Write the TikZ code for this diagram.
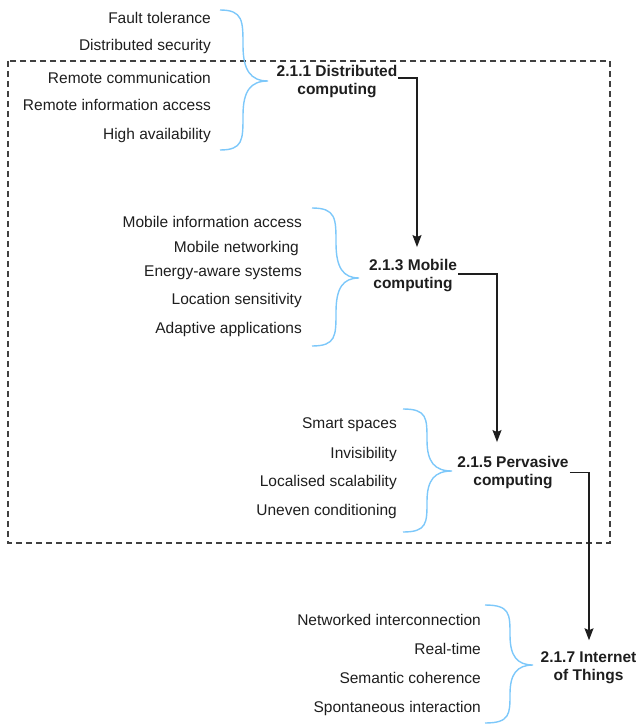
\documentclass[tikz,border=0pt]{standalone}
\usepackage{fontspec}
\setmainfont{Liberation Sans}
\usetikzlibrary{arrows.meta}
\definecolor{bracecol}{RGB}{125,200,250}
\definecolor{ink}{RGB}{30,30,30}
\begin{document}
\begin{tikzpicture}[x=1pt,y=-1pt,
  every node/.style={font=\fontsize{15.5}{18}\selectfont, text=ink},
  item/.style={anchor=base east, inner sep=0pt},
  title/.style={align=center, inner sep=1pt, font=\fontsize{15.5}{18}\selectfont\bfseries},
  brc/.style={draw=bracecol, line width=1.4pt},
  arr/.style={draw=ink, line width=1.3pt, -{Stealth[length=12pt,width=9pt,inset=2pt]}},
  frame/.style={draw=ink!85, line width=1.2pt, dash pattern=on 6pt off 4pt}]
\useasboundingbox (0,0) rectangle (639,725);

% dashed frame
\draw[frame] (8,61) rectangle (610,543);

% group 1
\node[item] (a1) at (211,23.5) {Fault tolerance};
\node[item] (a2) at (211,50.5) {Distributed security};
\node[item] (a3) at (211,83) {Remote communication};
\node[item] (a4) at (211,110) {Remote information access};
\node[item] (a5) at (211,139) {High availability};
\draw[brc] (220,10) .. controls (243,10) and (243,21) .. (243,45.5) .. controls (243,70) and (250.5,81) .. (268,81) .. controls (250.5,81) and (243,91) .. (243,115.5) .. controls (243,140) and (243,150) .. (220,150);
\node[title] (t1) at (337,81.5) {2.1.1 Distributed\\computing};

% group 2
\node[item] (b1) at (302,227.5) {Mobile information access};
\node[item] (b2) at (299,252.5) {Mobile networking};
\node[item] (b3) at (302,276.5) {Energy-aware systems};
\node[item] (b4) at (302,304.5) {Location sensitivity};
\node[item] (b5) at (302,333.5) {Adaptive applications};
\draw[brc] (312,208) .. controls (336,208) and (336,218.5) .. (336,243) .. controls (336,267.5) and (343,278) .. (359,278) .. controls (343,278) and (336,288) .. (336,312) .. controls (336,336) and (336,346) .. (312,346);
\node[title] (t2) at (413,275.5) {2.1.3 Mobile\\computing};

% group 3
\node[item] (c1) at (397,428.5) {Smart spaces};
\node[item] (c2) at (397,458.5) {Invisibility};
\node[item] (c3) at (397,486.5) {Localised scalability};
\node[item] (c4) at (397,515.5) {Uneven conditioning};
\draw[brc] (403,409) .. controls (427,409) and (427,418) .. (427,440) .. controls (427,462) and (434.5,471) .. (452,471) .. controls (434.5,471) and (427,480) .. (427,501.5) .. controls (427,523) and (427,532) .. (403,532);
\node[title] (t3) at (513,472.5) {2.1.5 Pervasive\\computing};

% group 4
\node[item] (d1) at (481,625.5) {Networked interconnection};
\node[item] (d2) at (481,654.5) {Real-time};
\node[item] (d3) at (481,683.5) {Semantic coherence};
\node[item] (d4) at (481,712.5) {Spontaneous interaction};
\draw[brc] (485,605) .. controls (510,605) and (510,614) .. (510,635) .. controls (510,656) and (517,665) .. (533,665) .. controls (517,665) and (510,674) .. (510,694) .. controls (510,714) and (510,723) .. (485,723);
\node[title] (t4) at (588.5,667.5) {2.1.7 Internet\\of Things};

% connectors
\draw[arr] ([yshift=3.5pt]t1.east) -| ([xshift=4pt,yshift=11pt]t2.north);
\draw[arr] ([yshift=1.5pt]t2.east) -| ([xshift=-16pt,yshift=13pt]t3.north);
\draw[arr] (t3.east) -| ([xshift=0.5pt,yshift=10pt]t4.north);
\end{tikzpicture}
\end{document}
